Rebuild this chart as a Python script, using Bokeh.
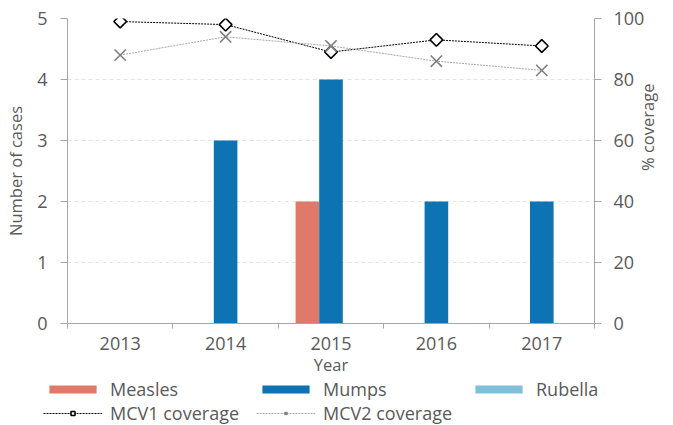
import math
from bokeh.plotting import figure
from bokeh.layouts import column
from bokeh.models import (ColumnDataSource, Range1d, LinearAxis, FixedTicker,
                          Legend, LegendItem)
from bokeh.transform import dodge
from bokeh.embed import file_html
from bokeh.resources import INLINE

years = [2013, 2014, 2015, 2016, 2017]
measles = [0, 0, 2, 0, 0]
mumps = [0, 3, 4, 2, 2]
rubella = [0, 0, 0, 0, 0]
mcv1 = [99, 98, 89, 93, 91]
mcv2 = [88, 94, 91, 86, 83]
left_ticks = [0, 1, 2, 3, 4, 5]
right_ticks = [0, 20, 40, 60, 80, 100]
series_names = ["Measles", "Mumps", "Rubella", "MCV1 coverage", "MCV2 coverage"]

FONT = "Open Sans"
TXT = "#595959"
AX = "#a6a6a6"
C_ME, C_MU, C_RU = "#df7a6b", "#0d73b3", "#80c0da"

src = ColumnDataSource(dict(year=years, measles=measles, mumps=mumps, rubella=rubella,
                            mcv1=mcv1, mcv2=mcv2))

p = figure(width=673, height=378, output_backend="svg", toolbar_location=None,
           x_range=Range1d(2012.5, 2017.5), y_range=Range1d(0, 5),
           min_border_left=67, min_border_right=70, min_border_top=18, min_border_bottom=10)
p.outline_line_color = None
p.extra_y_ranges = {"cov": Range1d(0, 100)}

bw = 0.224
p.vbar(x=dodge("year", -bw, range=p.x_range), top="measles", width=bw, source=src,
       fill_color=C_ME, line_color=None)
p.vbar(x=dodge("year", 0, range=p.x_range), top="mumps", width=bw, source=src,
       fill_color=C_MU, line_color=None)
p.vbar(x=dodge("year", bw, range=p.x_range), top="rubella", width=bw, source=src,
       fill_color=C_RU, line_color=None)

LINE1 = dict(line_color="black", line_dash="2 1", line_width=1)
MARK1 = dict(marker="square", angle=math.pi / 4, size=9, fill_color="white",
             line_color="black", line_width=1.6)
LINE2 = dict(line_color="#a6a6a6", line_dash="2 1", line_width=1)
MARK2 = dict(marker="x", size=16, line_color="#7f7f7f", line_width=1.6)

p.line("year", "mcv1", source=src, y_range_name="cov", **LINE1)
p.scatter("year", "mcv1", source=src, y_range_name="cov", **MARK1)
p.line("year", "mcv2", source=src, y_range_name="cov", **LINE2)
p.scatter("year", "mcv2", source=src, y_range_name="cov", **MARK2)

# axes
xa = p.xaxis[0]
xa.ticker = FixedTicker(ticks=years, minor_ticks=[2012.5, 2013.5, 2014.5, 2015.5, 2016.5, 2017.5])
xa.axis_label = "Year"

ya = p.yaxis[0]
ya.ticker = FixedTicker(ticks=left_ticks)
ya.axis_label = "Number of cases"

ra = LinearAxis(y_range_name="cov", ticker=FixedTicker(ticks=right_ticks),
                axis_label="% coverage")
p.add_layout(ra, "right")

for ax in [xa, ya, ra]:
    ax.axis_line_color = AX
    ax.major_tick_line_color = AX
    ax.minor_tick_line_color = None
    ax.major_tick_in = 0
    ax.major_tick_out = 7
    ax.major_label_text_font = FONT
    ax.major_label_text_font_size = "18px"
    ax.major_label_text_color = TXT
    ax.axis_label_text_font = FONT
    ax.axis_label_text_font_size = "16.5px"
    ax.axis_label_text_font_style = "normal"
    ax.axis_label_text_color = TXT
xa.major_tick_line_color = None
xa.minor_tick_line_color = AX
xa.minor_tick_in = 0
xa.minor_tick_out = 5
xa.major_label_standoff = 6
xa.axis_label_standoff = 0
ya.major_label_standoff = 13
ra.major_label_standoff = 12
ya.axis_label_standoff = 7
ra.axis_label_standoff = 0
try:
    ra.axis_label_orientation = math.pi / 2
except Exception:
    pass

p.xgrid.grid_line_color = None
p.ygrid.ticker = FixedTicker(ticks=left_ticks)
p.ygrid.grid_line_color = "#e3e3e3"
p.ygrid.grid_line_dash = "4 3"

# legend strip below the chart (its glyphs carry the real data, outside the strip's view)
lp = figure(width=673, height=47, output_backend="svg", toolbar_location=None,
            x_range=Range1d(0, 1), y_range=Range1d(0, 1),
            x_axis_location=None, y_axis_location=None,
            min_border_left=0, min_border_right=0, min_border_top=0, min_border_bottom=0)
lp.outline_line_color = None
lp.grid.visible = False
try:
    lp.frame_align = False
except Exception:
    pass
try:
    p.frame_align = False
except Exception:
    pass
g_me = lp.vbar(x="year", top="measles", width=bw, source=src, fill_color=C_ME, line_color=None)
g_mu = lp.vbar(x="year", top="mumps", width=bw, source=src, fill_color=C_MU, line_color=None)
g_ru = lp.vbar(x="year", top="rubella", width=bw, source=src, fill_color=C_RU, line_color=None)
g_l1 = lp.line("year", "mcv1", source=src, **LINE1)
g_m1 = lp.scatter("year", "mcv1", source=src, **MARK1)
g_l2 = lp.line("year", "mcv2", source=src, **LINE2)
g_m2 = lp.scatter("year", "mcv2", source=src, **MARK2)

legend = Legend(items=[
    LegendItem(label=series_names[0], renderers=[g_me]),
    LegendItem(label=series_names[1], renderers=[g_mu]),
    LegendItem(label=series_names[2], renderers=[g_ru]),
    LegendItem(label=series_names[3], renderers=[g_l1, g_m1]),
    LegendItem(label=series_names[4], renderers=[g_l2, g_m2]),
], orientation="horizontal", ncols=3)
legend.label_text_font = FONT
legend.label_text_font_size = "18px"
legend.label_text_color = TXT
legend.glyph_width = 59
legend.glyph_height = 10
legend.label_height = 20
legend.label_width = 146
legend.label_standoff = 8
legend.spacing = 0
legend.padding = 0
legend.margin = 0
legend.border_line_color = None
legend.background_fill_alpha = 0
legend.location = (43, 0)
lp.add_layout(legend, "center")

open("out.html", "w").write(file_html(column(p, lp, spacing=0), INLINE))
